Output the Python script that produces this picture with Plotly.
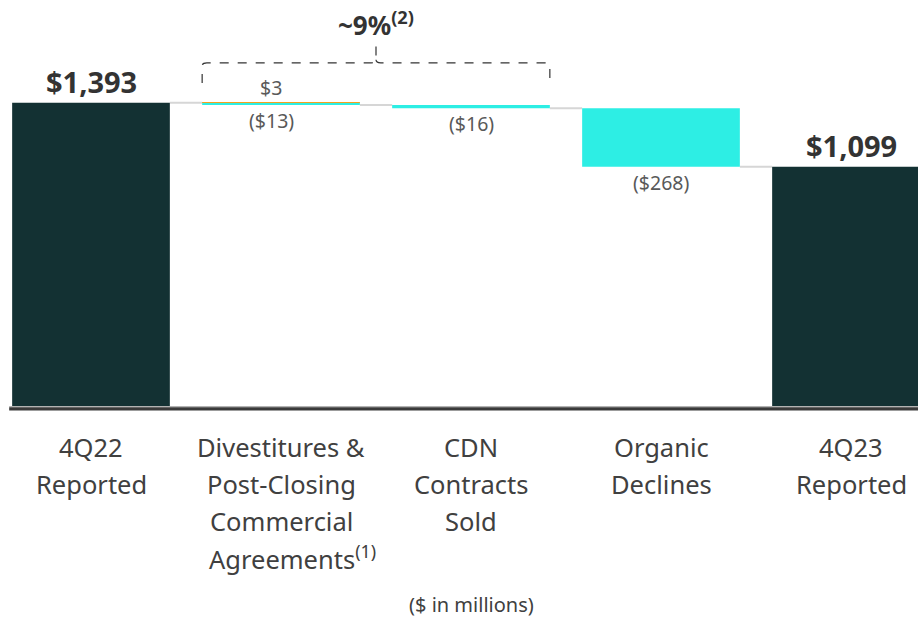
import plotly.graph_objects as go

# ---- data ----
categories = [
    ["4Q22", "Reported"],
    ["Divestitures &", "Post-Closing", "Commercial", "Agreements<sup>(1)</sup>"],
    ["CDN", "Contracts", "Sold"],
    ["Organic", "Declines"],
    ["4Q23", "Reported"],
]
start_value = 1393
divest_up = 3
divest_down = -13
cdn_change = -16
organic_change = -268
end_value = 1099

total_labels = ["$1,393", "$1,099"]
up_label = "$3"
down_labels = ["($13)", "($16)", "($268)"]
bracket_label = "<b>~9%<sup>(2)</sup></b>"
unit_note = "($ in millions)"

DARK = "#133133"
CYAN = "#2DEEE4"
ORANGE = "#F5A01E"
TEXT = "#404040"
FONT = "Noto Sans"

x = list(range(len(categories)))
W = 0.83

# levels
lvl0 = start_value
lvl_after_div = start_value + divest_up + divest_down
lvl_after_cdn = lvl_after_div + cdn_change
lvl_after_org = lvl_after_cdn + organic_change

fig = go.Figure()
# totals
fig.add_trace(go.Bar(x=[x[0], x[4]], y=[start_value, end_value], base=[0, 0],
                     width=W, marker=dict(color=DARK, line=dict(width=0)),
                     textposition="none", hoverinfo="skip"))
# decreases (cyan)
fig.add_trace(go.Bar(x=[x[1], x[2], x[3]],
                     y=[-divest_down, -cdn_change, -organic_change],
                     base=[lvl_after_div, lvl_after_cdn, lvl_after_org],
                     width=W, marker=dict(color=CYAN, line=dict(width=0)),
                     textposition="none", hoverinfo="skip"))
# increase (orange)
fig.add_trace(go.Bar(x=[x[1]], y=[divest_up], base=[lvl0],
                     width=W, marker=dict(color=ORANGE, line=dict(width=0)),
                     textposition="none", hoverinfo="skip"))

shapes = []
# connectors
conn_levels = [lvl0, lvl_after_div, lvl_after_cdn, lvl_after_org]
for i, lv in enumerate(conn_levels):
    shapes.append(dict(type="line", xref="x", yref="y",
                       x0=x[i] + W / 2, x1=x[i + 1] - W / 2, y0=lv, y1=lv,
                       line=dict(color="#d6d6d6", width=2), layer="below"))
# baseline (just below the plot area)
shapes.append(dict(type="rect", xref="paper", yref="paper", ysizemode="pixel",
                   yanchor=0, x0=0.01, x1=1, y0=-0.3, y1=-1.3,
                   fillcolor="#9a9a9a", line=dict(width=0)))
shapes.append(dict(type="rect", xref="paper", yref="paper", ysizemode="pixel",
                   yanchor=0, x0=0.01, x1=1, y0=-1.3, y1=-4.5,
                   fillcolor="#3a3a3a", line=dict(width=0)))

# bracket
x1 = x[1] - W / 2
x2 = x[2] + W / 2
xm = (x[1] + x[2]) / 2
yb, yh, yt = 1484, 1576, 1667
rx, ry = 0.025, 14
path = (f"M {x1},{yb} L {x1},{yh - ry} Q {x1},{yh} {x1 + rx},{yh} "
        f"L {xm - rx},{yh} Q {xm},{yh} {xm},{yh + ry} L {xm},{yt} "
        f"M {xm},{yh + ry} Q {xm},{yh} {xm + rx},{yh} "
        f"L {x2 - rx},{yh} Q {x2},{yh} {x2},{yh - ry} L {x2},{yb}")
shapes.append(dict(type="path", xref="x", yref="y", path=path,
                   line=dict(color="#333333", width=1.2, dash="dash")))

ann = []
# totals
ann.append(dict(x=x[0], y=start_value, text=f"<b>{total_labels[0]}</b>",
                yanchor="bottom", yshift=0, showarrow=False,
                font=dict(size=29, color="#333333", family=FONT)))
ann.append(dict(x=x[4], y=end_value, text=f"<b>{total_labels[1]}</b>",
                yanchor="bottom", yshift=0, showarrow=False,
                font=dict(size=29, color="#333333", family=FONT)))
# changes
ann.append(dict(x=x[1], y=lvl0 + divest_up, text=up_label, xshift=-10,
                yanchor="bottom", yshift=-1, showarrow=False,
                font=dict(size=19.5, color="#595959", family=FONT)))
for xi, lv, t, xs in zip([x[1], x[2], x[3]],
                         [lvl_after_div, lvl_after_cdn, lvl_after_org],
                         down_labels, [-10, 0, 0]):
    ann.append(dict(x=xi, y=lv, text=t, xshift=xs, yanchor="top", yshift=0,
                    showarrow=False,
                    font=dict(size=19.5, color="#595959", family=FONT)))
# bracket label
ann.append(dict(x=xm, y=yt, text=bracket_label, yanchor="bottom", yshift=-2,
                showarrow=False, font=dict(size=26, color="#333333", family=FONT)))
# category labels
for xi, lines in zip(x, categories):
    for j, line in enumerate(lines):
        xs = 11 if "<sup>" in line else 0
        ann.append(dict(x=xi, xref="x", y=0, yref="paper", text=line,
                        xshift=xs, yanchor="middle", yshift=-40.5 - 37 * j,
                        showarrow=False,
                        font=dict(size=25.5, color=TEXT, family=FONT)))
ann.append(dict(x=x[2], xref="x", y=0, yref="paper", text=unit_note,
                yanchor="middle", yshift=-198, showarrow=False, borderpad=0,
                font=dict(size=20, color=TEXT, family=FONT)))

fig.update_layout(
    width=918, height=619,
    margin=dict(l=0, r=0, t=0, b=212.5),
    paper_bgcolor="white", plot_bgcolor="white",
    barmode="overlay", showlegend=False,
    shapes=shapes, annotations=ann,
    xaxis=dict(range=[-91 / 190, (918 - 91) / 190], visible=False, fixedrange=True),
    yaxis=dict(range=[0, 406.5 / 0.218], visible=False, fixedrange=True),
    font=dict(family=FONT),
)

fig.write_html("out.html", config={"displayModeBar": False},
               post_script="document.body.style.margin='0';document.body.style.overflow='hidden';")
